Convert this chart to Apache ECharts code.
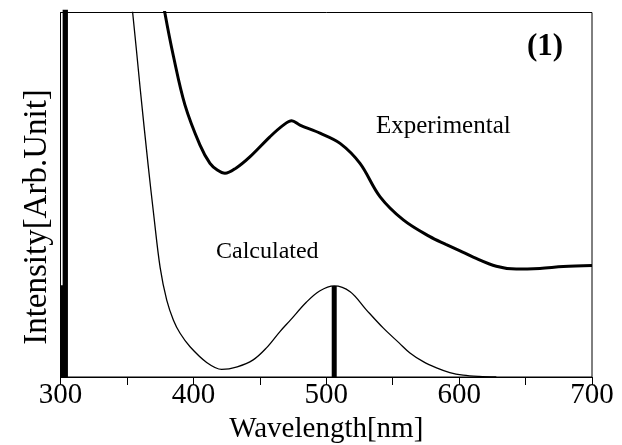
<!DOCTYPE html>
<html>
<head>
<meta charset="utf-8">
<script src="https://cdn.jsdelivr.net/npm/echarts@6/dist/echarts.min.js"></script>
<style>
  html, body { margin: 0; padding: 0; background: #fff; }
  #chart { width: 622px; height: 445px; }
</style>
</head>
<body>
<div id="chart"></div>
<script>
// wavelength (nm) / intensity (arb. unit, 0-100 plot scale)
var calcWl  = [352, 354.3, 360, 366, 370, 375, 380, 385, 390, 397.5, 410, 421.3, 433, 445, 455, 465, 473, 485, 495, 506, 518, 530, 543, 555, 563, 573, 583, 593, 603, 615, 628];
var calcInt = [106, 100, 79, 58, 45, 30, 21, 15.6, 12, 8.3, 4.0, 2.1, 2.8, 4.7, 8.0, 12.4, 15.6, 20.5, 23.6, 25, 23.4, 18.5, 13.4, 9.3, 6.6, 4.2, 2.5, 1.2, 0.5, 0.15, 0];

var expWl  = [376, 378.5, 385, 393.7, 405, 412.5, 418, 423.8, 432, 442.5, 457.6, 467.7, 474, 480.2, 495.3, 510.4, 525.4, 540.4, 558, 578, 590, 600.7, 610.6, 628, 643, 660.8, 678.4, 700];
var expInt = [106, 100, 88, 74.6, 63.6, 58.6, 56.8, 55.9, 57.3, 60.4, 65.9, 69.1, 70.3, 69.1, 66.9, 64.1, 58.6, 49.5, 43.1, 38.5, 36.4, 34.6, 32.9, 30.4, 29.6, 29.8, 30.3, 30.6];

// stick transitions
var stickWl  = [303.6, 301, 506];
var stickInt = [110, 25.2, 25];

var xTicks = [300, 400, 500, 600, 700];

function pairs(xs, ys) {
    var out = [];
    for (let i = 0, len = xs.length; i < len; i++) {
        out.push([xs[i], ys[i]]);
    }
    return out;
}

var chart = echarts.init(document.getElementById('chart'));
var font = '"Liberation Serif", "Times New Roman", serif';
var stickWidths = [5.3, 2.5, 5];

var series = [];
for (let i = 0; i < stickWl.length; i++) {
    series.push({
        type: 'line',
        data: [[stickWl[i], 0], [stickWl[i], stickInt[i]]],
        symbol: 'none',
        lineStyle: { color: '#000', width: stickWidths[i] },
        silent: true,
        z: 3
    });
}
series.push({
    name: 'Calculated',
    type: 'line',
    data: pairs(calcWl, calcInt),
    smooth: 0.35,
    symbol: 'none',
    lineStyle: { color: '#000', width: 1.3 }
});
series.push({
    name: 'Experimental',
    type: 'line',
    data: pairs(expWl, expInt),
    smooth: 0.35,
    symbol: 'none',
    lineStyle: { color: '#000', width: 3 }
});

var option = {
    animation: false,
    backgroundColor: '#fff',
    textStyle: { fontFamily: font },
    grid: {
        left: 60.5, right: 30, top: 12.5, bottom: 68,
        outerBoundsMode: 'none',
        containLabel: false,
        show: true, borderColor: '#000', borderWidth: 1
    },
    xAxis: {
        type: 'value',
        min: xTicks[0],
        max: xTicks[xTicks.length - 1],
        interval: 100,
        name: 'Wavelength[nm]',
        nameLocation: 'middle',
        nameGap: 32,
        nameTextStyle: { fontFamily: font, fontSize: 29, color: '#000' },
        axisLine: { lineStyle: { color: '#000', width: 1 } },
        axisTick: { show: true, inside: false, length: 8, lineStyle: { color: '#000' } },
        minorTick: { show: true, splitNumber: 2, length: 8, lineStyle: { color: '#000' } },
        axisLabel: { fontFamily: font, fontSize: 29, color: '#000', margin: 4 },
        splitLine: { show: false }
    },
    yAxis: {
        type: 'value',
        min: 0,
        max: 100,
        axisLine: { show: true, lineStyle: { color: '#000', width: 1 } },
        axisTick: { show: false },
        axisLabel: { show: false },
        splitLine: { show: false }
    },
    graphic: [
        {
            type: 'text', x: 37, y: 217, rotation: Math.PI / 2,
            style: { text: 'Intensity[Arb.Unit]', fontFamily: font, fontSize: 33, fill: '#000', align: 'center', verticalAlign: 'middle' }
        },
        { type: 'text', left: 376, top: 114, style: { text: 'Experimental', fontFamily: font, fontSize: 25, fill: '#000' } },
        { type: 'text', left: 216, top: 240, style: { text: 'Calculated', fontFamily: font, fontSize: 24, fill: '#000' } },
        { type: 'text', left: 527, top: 31, style: { text: '(1)', fontFamily: font, fontSize: 31, fontWeight: 'bold', fill: '#000' } }
    ],
    series: series
};
chart.setOption(option);
</script>
</body>
</html>
